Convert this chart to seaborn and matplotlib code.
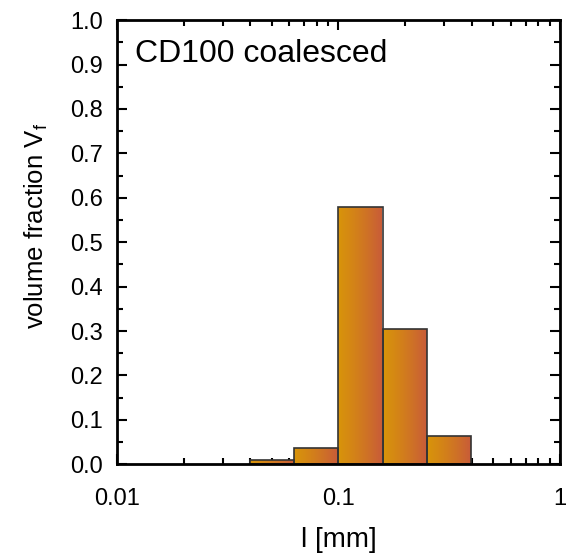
import numpy as np
import pandas as pd
import matplotlib
matplotlib.use("Agg")
import matplotlib.pyplot as plt
import seaborn as sns
from matplotlib.colors import LinearSegmentedColormap
from matplotlib.ticker import MultipleLocator, FixedLocator, NullFormatter, FormatStrFormatter

# bin edges (log spaced, in mm) and volume fractions
bin_edges = [0.0398, 0.0631, 0.1, 0.1585, 0.2512, 0.3981]
vol_frac = [0.010, 0.037, 0.580, 0.305, 0.064]
bin_centers = [np.sqrt(a * b) for a, b in zip(bin_edges[:-1], bin_edges[1:])]

df = pd.DataFrame({"l": bin_centers, "vf": vol_frac})

sns.set_style("ticks")
plt.rcParams["font.family"] = ["Liberation Sans", "DejaVu Sans"]
plt.rcParams["text.color"] = "black"
plt.rcParams["axes.labelcolor"] = "black"
plt.rcParams["xtick.color"] = "black"
plt.rcParams["ytick.color"] = "black"
plt.rcParams["axes.edgecolor"] = "black"

fig = plt.figure(figsize=(5.76, 5.58), dpi=100)
ax = fig.add_axes([0.203, 0.168, 0.769, 0.796])

sns.histplot(data=df, x="l", weights="vf", bins=bin_edges, ax=ax,
             stat="count", color="none", edgecolor="#333333", linewidth=1.2,
             alpha=1, fill=True)
ax.set_xscale("log")

# gradient fill inside each bar
cmap = LinearSegmentedColormap.from_list("bar", ["#d8940a", "#c85a3a"])
grad = np.linspace(0, 1, 256).reshape(1, -1)
for p in ax.patches:
    x0 = p.get_x()
    x1 = x0 + p.get_width()
    h = p.get_height()
    im = ax.imshow(grad, cmap=cmap, aspect="auto", extent=[x0, x1, 0, h],
                   zorder=p.get_zorder() - 0.1)
    im.set_clip_path(p)
    p.set_facecolor("none")

ax.set_xlim(0.01, 1)
ax.set_ylim(0, 1.0)
ax.set_xticks([0.01, 0.1, 1])
ax.set_xticklabels(["0.01", "0.1", "1"])
ax.xaxis.set_minor_locator(FixedLocator([k * 10.0 ** e for e in (-2, -1) for k in range(2, 10)]))
ax.xaxis.set_minor_formatter(NullFormatter())
ax.yaxis.set_major_locator(MultipleLocator(0.1))
ax.yaxis.set_minor_locator(MultipleLocator(0.05))
ax.yaxis.set_major_formatter(FormatStrFormatter("%.1f"))

ax.tick_params(which="both", direction="in", top=True, right=True, width=1.5)
ax.tick_params(which="major", length=7, labelsize=17)
ax.tick_params(which="minor", length=4)
ax.tick_params(axis="x", which="major", pad=17)
ax.tick_params(axis="y", which="major", pad=10)
for s in ax.spines.values():
    s.set_linewidth(2)
    s.set_visible(True)

ax.set_xlabel("l [mm]", fontsize=20, labelpad=12)
ax.set_ylabel("volume fraction V$_\\mathregular{f}$", fontsize=18.5)
ax.yaxis.set_label_coords(-0.15, 0.536)
ax.text(0.04, 0.923, "CD100 coalesced", transform=ax.transAxes, fontsize=23,
        va="center", ha="left")

fig.savefig("out.png", dpi=100)
